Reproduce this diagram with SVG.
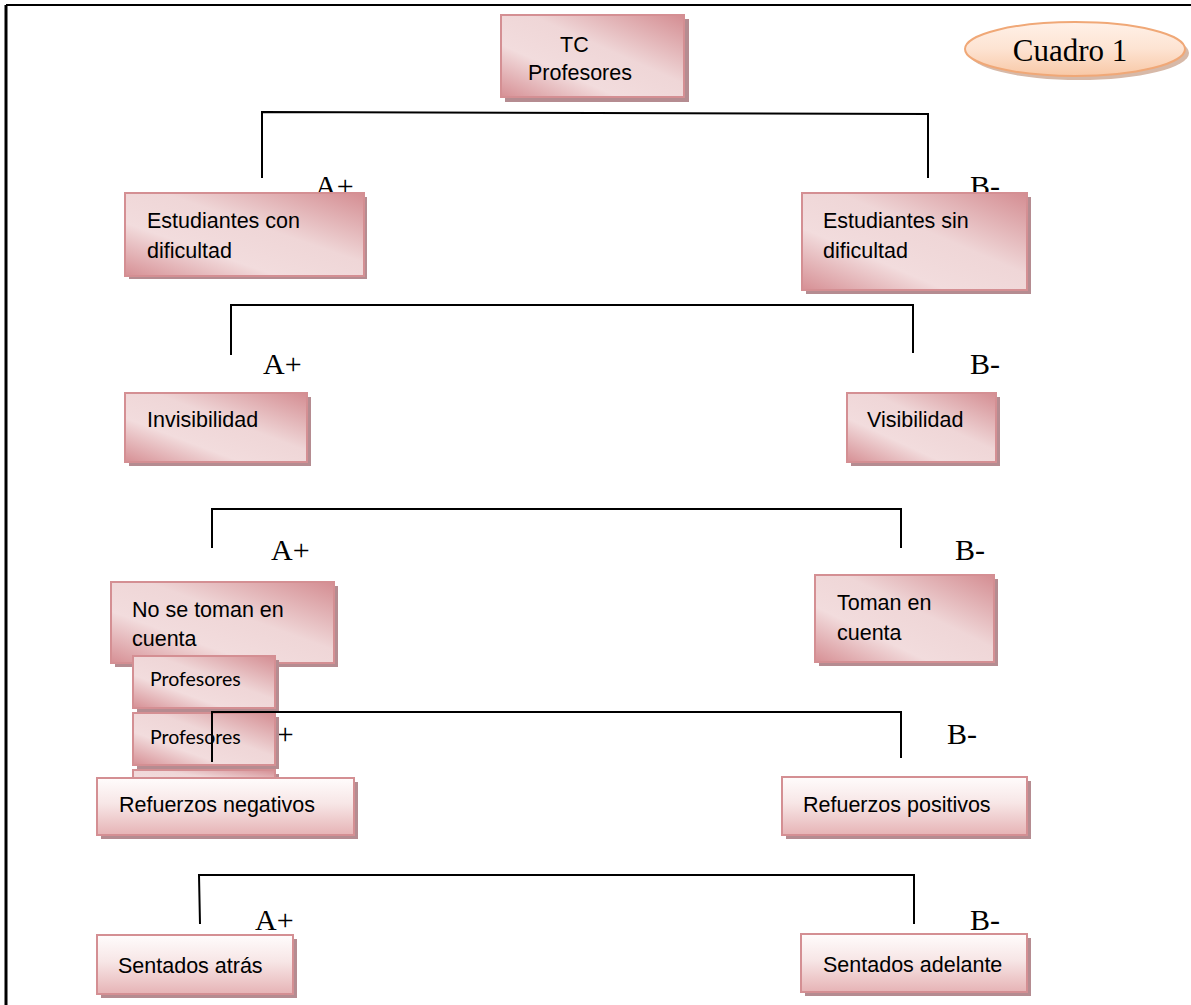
<svg xmlns="http://www.w3.org/2000/svg" width="1191" height="1005" viewBox="0 0 1191 1005">
<defs>
<linearGradient id="gA" x1="0" y1="1" x2="1" y2="0">
<stop offset="0" stop-color="#d68f94"/>
<stop offset="0.32" stop-color="#f2dcdd"/>
<stop offset="0.58" stop-color="#efd6d7"/>
<stop offset="1" stop-color="#d48d92"/>
</linearGradient>
<linearGradient id="gB" x1="0" y1="0" x2="0" y2="1">
<stop offset="0" stop-color="#fffcfc"/>
<stop offset="0.45" stop-color="#f7e6e6"/>
<stop offset="1" stop-color="#e6b3b5"/>
</linearGradient>
<linearGradient id="gE" x1="0" y1="0" x2="0" y2="1">
<stop offset="0" stop-color="#fff1e8"/>
<stop offset="0.5" stop-color="#fde3d2"/>
<stop offset="1" stop-color="#f8c8a6"/>
</linearGradient>
</defs>
<style>
.a{fill:url(#gA);stroke:#d48f93;stroke-width:2}
.b{fill:url(#gB);stroke:#d48f93;stroke-width:2}
.sh{fill:#b58c91}
.t{font-family:"Liberation Sans",Arial,sans-serif;font-size:21.5px;fill:#000}
.c{font-family:Lato,"Open Sans",sans-serif;font-size:19.5px;fill:#000}
.l{font-family:"Liberation Serif","Times New Roman",serif;font-size:30px;fill:#000}
.ln{fill:none;stroke:#000;stroke-width:2}
</style>
<g id="frame">
<line x1="6" y1="5" x2="1191" y2="5" stroke="#000" stroke-width="2"/>
<line x1="6" y1="5" x2="6" y2="1005" stroke="#000" stroke-width="3"/>
</g>
<g id="labels">
<text class="l" x="315" y="196">A+</text>
<text class="l" x="970" y="196">B-</text>
<text class="l" x="263" y="374">A+</text>
<text class="l" x="970" y="374">B-</text>
<text class="l" x="271" y="560">A+</text>
<text class="l" x="955" y="560">B-</text>
<text class="l" x="255" y="744">A+</text>
<text class="l" x="947" y="744">B-</text>
<text class="l" x="255" y="930">A+</text>
<text class="l" x="970" y="930">B-</text>
</g>
<g id="cuadro">
<ellipse cx="1079" cy="53" rx="110" ry="27" fill="#d7b9a8"/>
<ellipse cx="1075" cy="49" rx="110" ry="27" fill="url(#gE)" stroke="#f0a877" stroke-width="2"/>
<text x="1070" y="61" text-anchor="middle" font-family="Liberation Serif,Times New Roman,serif" font-size="31">Cuadro 1</text>
</g>
<g id="tc">
<rect class="sh" x="505" y="19" width="184" height="83"/>
<rect class="a" x="501" y="15" width="183" height="82"/>
<text class="t" x="560" y="52">TC</text>
<text class="t" x="528" y="80">Profesores</text>
</g>
<g id="est-con">
<rect class="sh" x="129" y="197" width="238" height="82"/>
<rect class="a" x="125" y="193" width="239" height="83"/>
<text class="t" x="147" y="228">Estudiantes con</text>
<text class="t" x="147" y="258">dificultad</text>
</g>
<g id="est-sin">
<rect class="sh" x="806" y="197" width="225" height="97"/>
<rect class="a" x="802" y="193" width="225" height="97"/>
<text class="t" x="823" y="228">Estudiantes sin</text>
<text class="t" x="823" y="258">dificultad</text>
</g>
<g id="invisibilidad">
<rect class="sh" x="129" y="397" width="182" height="69"/>
<rect class="a" x="125" y="393" width="182" height="69"/>
<text class="t" x="147" y="427">Invisibilidad</text>
</g>
<g id="visibilidad">
<rect class="sh" x="851" y="397" width="149" height="69"/>
<rect class="a" x="847" y="393" width="149" height="69"/>
<text class="t" x="867" y="427">Visibilidad</text>
</g>
<g id="no-toman">
<rect class="sh" x="115" y="586" width="223" height="81"/>
<rect class="a" x="111" y="582" width="223" height="81"/>
<text class="t" x="132" y="617">No se toman en</text>
<text class="t" x="132" y="646">cuenta</text>
</g>
<g id="toman">
<rect class="sh" x="819" y="579" width="179" height="87"/>
<rect class="a" x="815" y="575" width="179" height="87"/>
<text class="t" x="837" y="610">Toman en</text>
<text class="t" x="837" y="640">cuenta</text>
</g>
<g id="prof3">
<rect class="sh" x="137" y="774" width="142" height="20"/>
<rect class="a" x="133" y="770" width="142" height="20"/>
</g>
<g id="prof1">
<rect class="sh" x="137" y="660" width="142" height="52"/>
<rect class="a" x="133" y="656" width="142" height="52"/>
<text class="c" x="150" y="686">Profesores</text>
</g>
<g id="prof2">
<rect class="sh" x="137" y="717" width="142" height="52"/>
<rect class="a" x="133" y="713" width="142" height="52"/>
<text class="c" x="150" y="744">Profesores</text>
</g>
<g id="ref-neg">
<rect class="sh" x="101" y="782" width="257" height="57"/>
<rect class="b" x="97" y="778" width="257" height="57"/>
<text class="t" x="119" y="812">Refuerzos negativos</text>
</g>
<g id="ref-pos">
<rect class="sh" x="786" y="781" width="245" height="58"/>
<rect class="b" x="782" y="777" width="245" height="58"/>
<text class="t" x="803" y="812">Refuerzos positivos</text>
</g>
<g id="sent-atras">
<rect class="sh" x="101" y="939" width="196" height="59"/>
<rect class="b" x="97" y="935" width="196" height="59"/>
<text class="t" x="118" y="973">Sentados atrás</text>
</g>
<g id="sent-adelante">
<rect class="sh" x="805" y="938" width="226" height="58"/>
<rect class="b" x="801" y="934" width="226" height="58"/>
<text class="t" x="823" y="972">Sentados adelante</text>
</g>
<g id="connectors">
<polyline class="ln" points="262,178 262,112 928,114 928,178"/>
<polyline class="ln" points="231,355 231,305 913,305 913,353"/>
<polyline class="ln" points="212,548 212,509 901,509 901,548"/>
<polyline class="ln" points="212,762 212,712 901,712 901,758"/>
<polyline class="ln" points="200,924 199,875 914,875 914,924"/>
</g>
</svg>
